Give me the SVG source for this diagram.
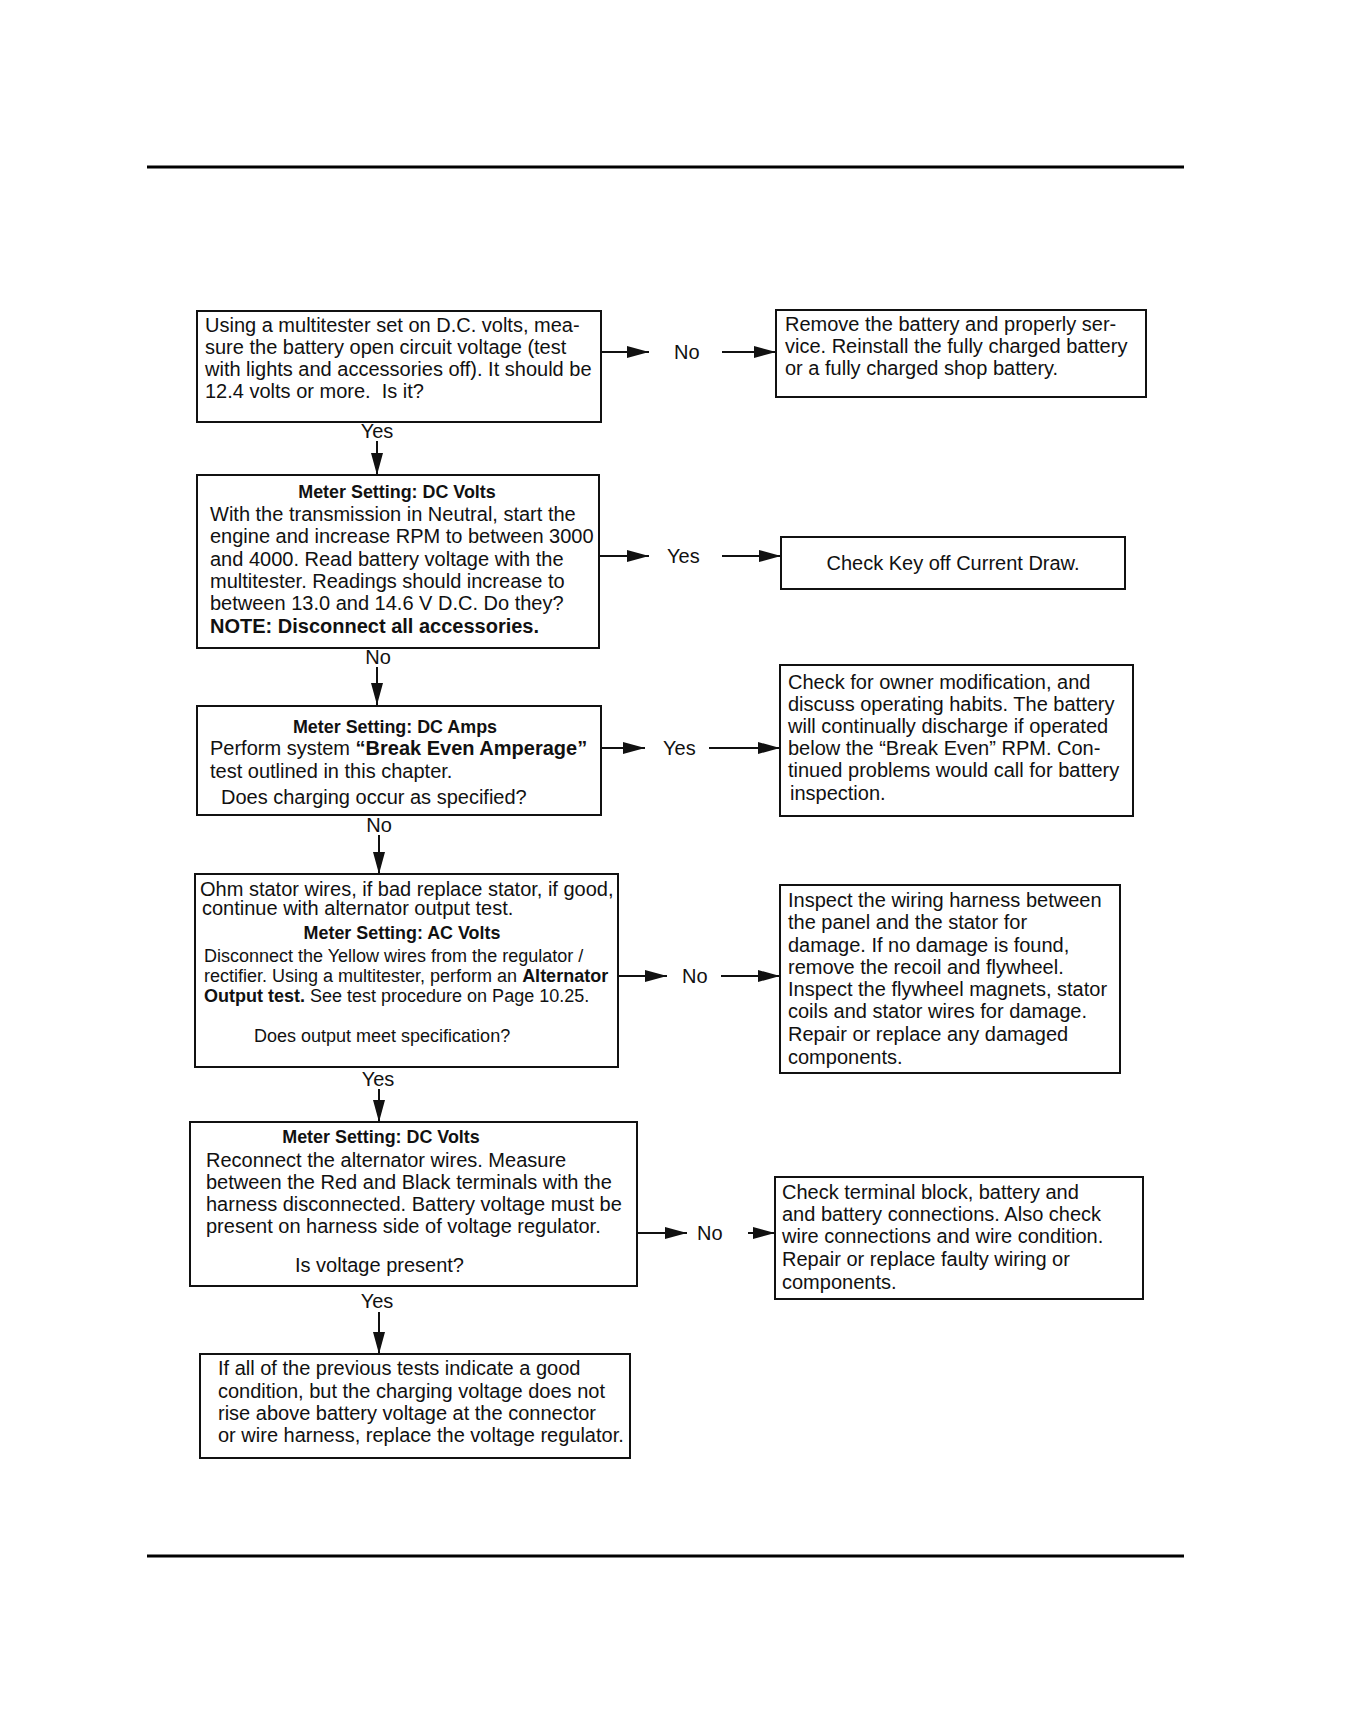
<svg xmlns="http://www.w3.org/2000/svg" width="1368" height="1728" viewBox="0 0 1368 1728">
<defs>
<style>
.box{fill:#fff;stroke:#111;stroke-width:2}
.t{font-family:"Liberation Sans",Arial,sans-serif;font-size:20px;fill:#111;white-space:pre}
.s{font-family:"Liberation Sans",Arial,sans-serif;font-size:18px;fill:#111}
.h{font-family:"Liberation Sans",Arial,sans-serif;font-size:17.9px;font-weight:bold;fill:#111}
.b{font-weight:bold}
.c{text-anchor:middle}
.conn line{stroke:#111;stroke-width:2;marker-end:url(#ah)}
.rule{stroke:#000;stroke-width:3}
</style>
<marker id="ah" markerUnits="userSpaceOnUse" markerWidth="22" markerHeight="12" refX="22" refY="6" orient="auto">
<path d="M0,0 L22,6 L0,12 z" fill="#111"/>
</marker>
</defs>
<rect width="1368" height="1728" fill="#fff"/>
<line class="rule" x1="147" y1="167" x2="1184" y2="167"/>
<line class="rule" x1="147" y1="1556" x2="1184" y2="1556"/>

<g id="conn" class="conn">
<line x1="377" y1="441" x2="377" y2="475"/>
<line x1="377" y1="667" x2="377" y2="705"/>
<line x1="379" y1="835" x2="379" y2="874"/>
<line x1="379" y1="1089" x2="379" y2="1122"/>
<line x1="379" y1="1312" x2="379" y2="1354"/>
<line x1="601" y1="352" x2="649" y2="352"/>
<line x1="722" y1="352" x2="776" y2="352"/>
<line x1="599" y1="556" x2="649" y2="556"/>
<line x1="722" y1="556" x2="781" y2="556"/>
<line x1="602" y1="748" x2="645" y2="748"/>
<line x1="709" y1="748" x2="780" y2="748"/>
<line x1="619" y1="976" x2="667" y2="976"/>
<line x1="721" y1="976" x2="780" y2="976"/>
<line x1="637" y1="1233" x2="687" y2="1233"/>
<line x1="748" y1="1233" x2="775" y2="1233"/>
</g>
<g id="labels">
<text class="t c" x="377" y="438">Yes</text>
<text class="t c" x="378" y="664">No</text>
<text class="t c" x="379" y="832">No</text>
<text class="t c" x="378" y="1086">Yes</text>
<text class="t c" x="377" y="1308">Yes</text>
<text class="t" x="674" y="359">No</text>
<text class="t" x="667" y="563">Yes</text>
<text class="t" x="663" y="755">Yes</text>
<text class="t" x="682" y="983">No</text>
<text class="t" x="697" y="1240">No</text>
</g>

<g id="n1">
<rect class="box" x="197" y="311" width="404" height="111"/>
<text class="t" x="205" y="332">Using a multitester set on D.C. volts, mea-</text>
<text class="t" x="205" y="354">sure the battery open circuit voltage (test</text>
<text class="t" x="205" y="376">with lights and accessories off). It should be</text>
<text class="t" x="205" y="398">12.4 volts or more.  Is it?</text>
</g>
<g id="r1">
<rect class="box" x="776" y="310" width="370" height="87"/>
<text class="t" x="785" y="331">Remove the battery and properly ser-</text>
<text class="t" x="785" y="353">vice. Reinstall the fully charged battery</text>
<text class="t" x="785" y="375">or a fully charged shop battery.</text>
</g>
<g id="n2">
<rect class="box" x="197" y="475" width="402" height="173"/>
<text class="h c" x="397" y="498">Meter Setting: DC Volts</text>
<text class="t" x="210" y="521">With the transmission in Neutral, start the</text>
<text class="t" x="210" y="543">engine and increase RPM to between 3000</text>
<text class="t" x="210" y="566">and 4000. Read battery voltage with the</text>
<text class="t" x="210" y="588">multitester. Readings should increase to</text>
<text class="t" x="210" y="610">between 13.0 and 14.6 V D.C. Do they?</text>
<text class="t b" x="210" y="633">NOTE: Disconnect all accessories.</text>
</g>
<g id="r2">
<rect class="box" x="781" y="537" width="344" height="52"/>
<text class="t c" x="953" y="570">Check Key off Current Draw.</text>
</g>
<g id="n3">
<rect class="box" x="197" y="706" width="404" height="109"/>
<text class="h c" x="395" y="733">Meter Setting: DC Amps</text>
<text class="t" x="210" y="755">Perform system <tspan class="b">“Break Even Amperage”</tspan></text>
<text class="t" x="210" y="778">test outlined in this chapter.</text>
<text class="t" x="221" y="804">Does charging occur as specified?</text>
</g>
<g id="r3">
<rect class="box" x="780" y="665" width="353" height="151"/>
<text class="t" x="788" y="689">Check for owner modification, and</text>
<text class="t" x="788" y="711">discuss operating habits. The battery</text>
<text class="t" x="788" y="733">will continually discharge if operated</text>
<text class="t" x="788" y="755">below the “Break Even” RPM. Con-</text>
<text class="t" x="788" y="777">tinued problems would call for battery</text>
<text class="t" x="790" y="800">inspection.</text>
</g>
<g id="n4">
<rect class="box" x="195" y="874" width="423" height="193"/>
<text class="t" x="200" y="896">Ohm stator wires, if bad replace stator, if good,</text>
<text class="t" x="202" y="915">continue with alternator output test.</text>
<text class="h c" x="402" y="939">Meter Setting: AC Volts</text>
<text class="s" x="204" y="962">Disconnect the Yellow wires from the regulator /</text>
<text class="s" x="204" y="982">rectifier. Using a multitester, perform an <tspan class="b">Alternator</tspan></text>
<text class="s" x="204" y="1002"><tspan class="b">Output test.</tspan> See test procedure on Page 10.25.</text>
<text class="s" x="254" y="1042">Does output meet specification?</text>
</g>
<g id="r4">
<rect class="box" x="780" y="885" width="340" height="188"/>
<text class="t" x="788" y="907">Inspect the wiring harness between</text>
<text class="t" x="788" y="929">the panel and the stator for</text>
<text class="t" x="788" y="952">damage. If no damage is found,</text>
<text class="t" x="788" y="974">remove the recoil and flywheel.</text>
<text class="t" x="788" y="996">Inspect the flywheel magnets, stator</text>
<text class="t" x="788" y="1018">coils and stator wires for damage.</text>
<text class="t" x="788" y="1041">Repair or replace any damaged</text>
<text class="t" x="788" y="1064">components.</text>
</g>
<g id="n5">
<rect class="box" x="190" y="1122" width="447" height="164"/>
<text class="h c" x="381" y="1143">Meter Setting: DC Volts</text>
<text class="t" x="206" y="1167">Reconnect the alternator wires. Measure</text>
<text class="t" x="206" y="1189">between the Red and Black terminals with the</text>
<text class="t" x="206" y="1211">harness disconnected. Battery voltage must be</text>
<text class="t" x="206" y="1233">present on harness side of voltage regulator.</text>
<text class="t" x="295" y="1272">Is voltage present?</text>
</g>
<g id="r5">
<rect class="box" x="775" y="1177" width="368" height="122"/>
<text class="t" x="782" y="1199">Check terminal block, battery and</text>
<text class="t" x="782" y="1221">and battery connections. Also check</text>
<text class="t" x="782" y="1243">wire connections and wire condition.</text>
<text class="t" x="782" y="1266">Repair or replace faulty wiring or</text>
<text class="t" x="782" y="1289">components.</text>
</g>
<g id="n6">
<rect class="box" x="200" y="1354" width="430" height="104"/>
<text class="t" x="218" y="1375">If all of the previous tests indicate a good</text>
<text class="t" x="218" y="1398">condition, but the charging voltage does not</text>
<text class="t" x="218" y="1420">rise above battery voltage at the connector</text>
<text class="t" x="218" y="1442">or wire harness, replace the voltage regulator.</text>
</g>
</svg>
